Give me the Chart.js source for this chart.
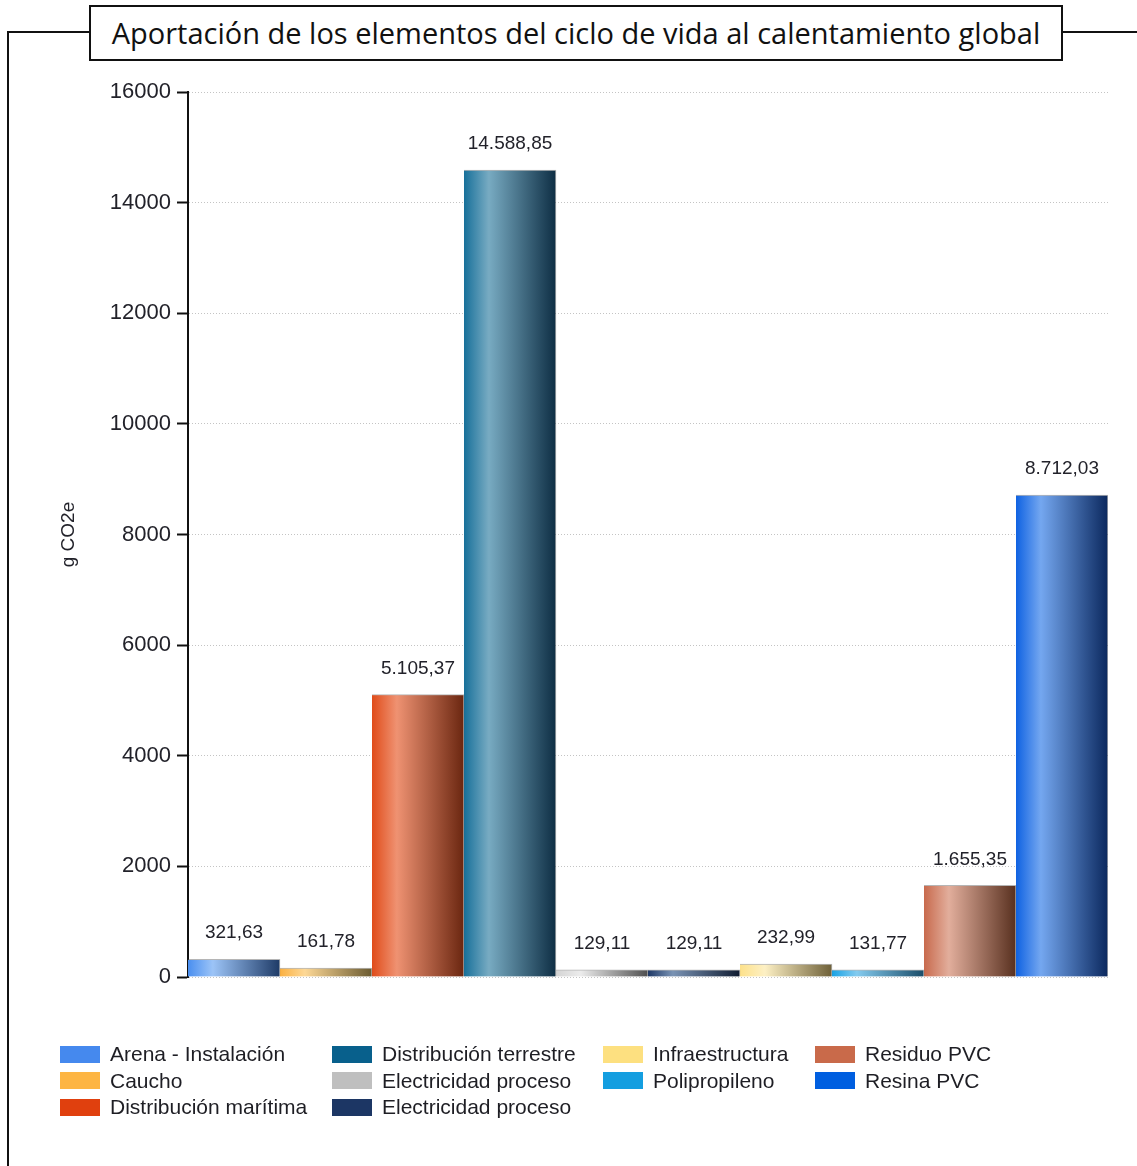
<!DOCTYPE html>
<html lang="es">
<head>
<meta charset="utf-8">
<title>Aportación al calentamiento global</title>
<script src="https://cdn.jsdelivr.net/npm/chart.js@4.4.1/dist/chart.umd.min.js"></script>
<style>
  html, body { margin: 0; padding: 0; background: #fff; }
  body { width: 1137px; height: 1166px; position: relative; overflow: hidden; }
  .marco {
    position: absolute; left: 7px; top: 31px; width: 1300px; height: 1300px;
    border-top: 2px solid #111; border-left: 2px solid #111;
  }
  .titulo {
    position: absolute; left: 89px; top: 5px; width: 970px; height: 52px;
    border: 2px solid #111; background: #fff; color: #111;
    font-family: "Open Sans", sans-serif; font-size: 29px; line-height: 52px;
    text-align: center; white-space: nowrap;
  }
  #grafico { position: absolute; left: 0; top: 0; }
  .item {
    position: absolute; height: 26px; display: flex; align-items: center;
    font-family: "Liberation Sans", Arial, sans-serif; font-size: 21px; color: #1e1e24;
    white-space: nowrap;
  }
  .item span.caja { width: 40px; height: 17px; margin-right: 10px; display: inline-block; }
</style>
</head>
<body>
<div class="marco"></div>
<div class="titulo">Aportación de los elementos del ciclo de vida al calentamiento global</div>
<canvas id="grafico" width="1137" height="1166"></canvas>
<div id="leyenda"></div>

<script>
// elementos del ciclo de vida y su aporte en g CO2e
const elementos = ['Arena - Instalación', 'Caucho', 'Distribución marítima', 'Distribución terrestre',
    'Electricidad proceso', 'Electricidad proceso', 'Infraestructura', 'Polipropileno',
    'Residuo PVC', 'Resina PVC'];
const valores = [321.63, 161.78, 5105.37, 14588.85, 129.11, 129.11, 232.99, 131.77, 1655.35, 8712.03];

// color de leyenda y tonos del degradado de cada barra (base, brillo, sombra)
const colores = ['#4589ee', '#fdb543', '#e0400e', '#08608c', '#bfbfbf', '#1c3664',
    '#fde080', '#149ee0', '#c96a4a', '#005fe0'];
const tonos = [
    ['#4a8ff0', '#9cc4f7', '#1e3a66'],
    ['#fbb040', '#fdd896', '#6a5a30'],
    ['#e04c1a', '#ef9272', '#6a2610'],
    ['#17709a', '#78abc2', '#0e2e44'],
    ['#d4d4d4', '#ececec', '#4e4e4e'],
    ['#1e3866', '#7a93b4', '#0f1b30'],
    ['#fde18a', '#fdf0c4', '#6e6038'],
    ['#18a2e4', '#84cbef', '#1a4c68'],
    ['#c86a4d', '#e2ae9c', '#58301f'],
    ['#0f62e2', '#74a7f0', '#0b285e']
];
const ticksY = [0, 2000, 4000, 6000, 8000, 10000, 12000, 14000, 16000];

// columnas de la leyenda (indices de serie)
const columnasLeyenda = [[0, 1, 2], [3, 4, 5], [6, 7], [8, 9]];
const xColumnas = [60, 332, 603, 815];

function formatoES(v) {
    const partes = v.toFixed(2).split('.');
    return partes[0].replace(/\B(?=(\d{3})+(?!\d))/g, '.') + ',' + partes[1];
}

// degradado horizontal sobre cada barra
const degradados = {
    id: 'degradados',
    beforeDatasetsDraw(chart) {
        const ctx = chart.ctx;
        chart.data.datasets.forEach((ds, i) => {
            chart.getDatasetMeta(i).data.forEach(bar => {
                const x0 = bar.x - bar.width / 2;
                const g = ctx.createLinearGradient(x0, 0, x0 + bar.width, 0);
                g.addColorStop(0, tonos[i][0]);
                g.addColorStop(0.27, tonos[i][1]);
                g.addColorStop(1, tonos[i][2]);
                bar.options = Object.assign({}, bar.options, { backgroundColor: g });
            });
        });
    }
};

// valores encima de las barras
const etiquetas = {
    id: 'etiquetas',
    afterDatasetsDraw(chart) {
        const ctx = chart.ctx;
        ctx.save();
        ctx.font = '19px "Liberation Sans", Arial, sans-serif';
        ctx.fillStyle = '#22222a';
        ctx.textAlign = 'center';
        ctx.textBaseline = 'middle';
        chart.data.datasets.forEach((ds, i) => {
            chart.getDatasetMeta(i).data.forEach((bar, j) => {
                ctx.fillText(formatoES(ds.data[j]), bar.x, bar.y - 26);
            });
        });
        ctx.restore();
    }
};

const grafico = new Chart(document.getElementById('grafico'), {
    type: 'bar',
    data: {
        labels: [''],
        datasets: elementos.map((nombre, i) => ({
            label: nombre,
            data: [valores[i]],
            backgroundColor: colores[i],
            borderColor: 'rgba(90,90,90,0.45)',
            borderWidth: { top: 1, right: 1, left: 0, bottom: 0 },
            categoryPercentage: 1,
            barPercentage: 1
        }))
    },
    options: {
        responsive: false,
        animation: false,
        layout: { padding: { top: 92, right: 29, bottom: 189, left: 0 } },
        plugins: {
            legend: { display: false },
            tooltip: { enabled: false }
        },
        scales: {
            x: { display: false },
            y: {
                min: 0,
                max: 16000,
                afterBuildTicks: s => { s.ticks = ticksY.map(v => ({ value: v })); },
                afterFit: s => { s.width = 188; },
                ticks: {
                    padding: 6,
                    color: '#22222a',
                    font: { family: '"Liberation Sans", Arial, sans-serif', size: 22 },
                    callback: v => String(v)
                },
                grid: {
                    color: '#c4c4c4',
                    lineWidth: 1,
                    tickLength: 11,
                    tickWidth: 2,
                    tickColor: '#111'
                },
                border: { display: true, color: '#111', width: 2, dash: [1, 2] },
                title: {
                    display: true,
                    text: 'g CO2e',
                    color: '#22222a',
                    font: { family: '"Liberation Sans", Arial, sans-serif', size: 19 },
                    padding: { top: 57, bottom: 0 }
                }
            }
        }
    },
    plugins: [degradados, etiquetas]
});

// leyenda en columnas
const leyenda = document.getElementById('leyenda');
columnasLeyenda.forEach((col, c) => {
    col.forEach((idx, r) => {
        const ds = grafico.data.datasets[idx];
        const item = document.createElement('div');
        item.className = 'item';
        item.style.left = xColumnas[c] + 'px';
        item.style.top = (1041 + r * 26.5) + 'px';
        const caja = document.createElement('span');
        caja.className = 'caja';
        caja.style.background = ds.backgroundColor;
        item.appendChild(caja);
        item.appendChild(document.createTextNode(ds.label));
        leyenda.appendChild(item);
    });
});
</script>
</body>
</html>
